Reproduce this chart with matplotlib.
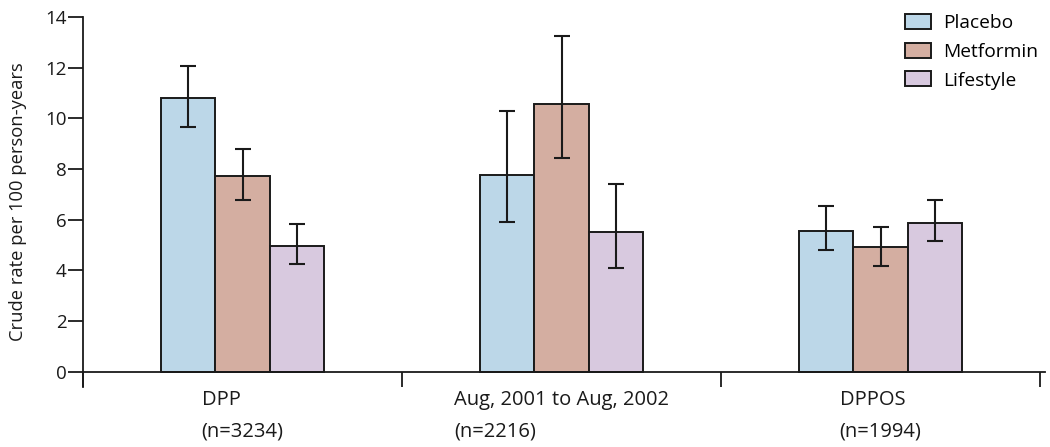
import matplotlib
matplotlib.use("Agg")
import matplotlib.pyplot as plt
import numpy as np

plt.rcParams['font.family'] = ['Open Sans', 'DejaVu Sans']

groups = ["DPP\n(n=3234)", "Aug, 2001 to Aug, 2002\n(n=2216)", "DPPOS\n(n=1994)"]
series = ["Placebo", "Metformin", "Lifestyle"]
colors = ["#bcd7e8", "#d4aea1", "#d8c9df"]

values = {
    "Placebo":   [10.82, 7.78, 5.56],
    "Metformin": [7.72, 10.56, 4.92],
    "Lifestyle": [4.98, 5.51, 5.88],
}
lower = {
    "Placebo":   [9.66, 5.90, 4.82],
    "Metformin": [6.77, 8.43, 4.18],
    "Lifestyle": [4.26, 4.10, 5.15],
}
upper = {
    "Placebo":   [12.07, 10.30, 6.56],
    "Metformin": [8.79, 13.25, 5.72],
    "Lifestyle": [5.84, 7.43, 6.77],
}
yticks = [0, 2, 4, 6, 8, 10, 12, 14]

fig = plt.figure(figsize=(10.5, 4.47), dpi=100)
xmax = 3.015
ax = fig.add_axes([83/1050, 1-387/447, (1040-83)*xmax/3/1050, (387-17)/447])

width = 0.17
centers = np.arange(len(groups)) + 0.5
for i, s in enumerate(series):
    x = centers + (i - 1) * width
    v = np.array(values[s])
    lo = v - np.array(lower[s])
    hi = np.array(upper[s]) - v
    ax.bar(x, v, width=width, color=colors[i], edgecolor="#1a1a1a", linewidth=1.4,
           label=s, zorder=2)
    ax.errorbar(x, v, yerr=[lo, hi], fmt="none", ecolor="#1a1a1a", elinewidth=1.5,
                capsize=5.9, capthick=1.5, zorder=3)

ax.set_xlim(0, xmax)
ax.set_ylim(-0.6, 14)
ax.spines['top'].set_visible(False)
ax.spines['right'].set_visible(False)
ax.spines['bottom'].set_position(('data', 0))
for sp in ['left', 'bottom']:
    ax.spines[sp].set_linewidth(1.3)
    ax.spines[sp].set_color("#1a1a1a")

ax.set_yticks(yticks)
ax.set_yticklabels([str(t) for t in yticks])
ax.tick_params(axis='y', direction='out', length=10.5, width=1.3, labelsize=13.5, pad=1.5,
               colors="#1a1a1a")

ax.set_xticks(centers)
ax.set_xticklabels(groups, fontsize=14.5, multialignment='left', linespacing=1.8)
ax.tick_params(axis='x', which='major', length=0, pad=13, colors="#1a1a1a")
ax.set_xticks([0, 1, 2, 3], minor=True)
ax.tick_params(axis='x', which='minor', direction='out', length=10.5, width=1.3,
               colors="#1a1a1a")

ax.set_ylabel("Crude rate per 100 person-years", fontsize=13.2, labelpad=13,
              color="#1a1a1a")

leg = ax.legend(loc='upper right', bbox_to_anchor=(1038/1050, 1-14/447),
                bbox_transform=fig.transFigure, frameon=False,
                fontsize=13.8, handlelength=1.35, handleheight=0.83,
                handletextpad=0.62, labelspacing=0.55, borderpad=0, borderaxespad=0)

fig.savefig("out.png", dpi=100)
